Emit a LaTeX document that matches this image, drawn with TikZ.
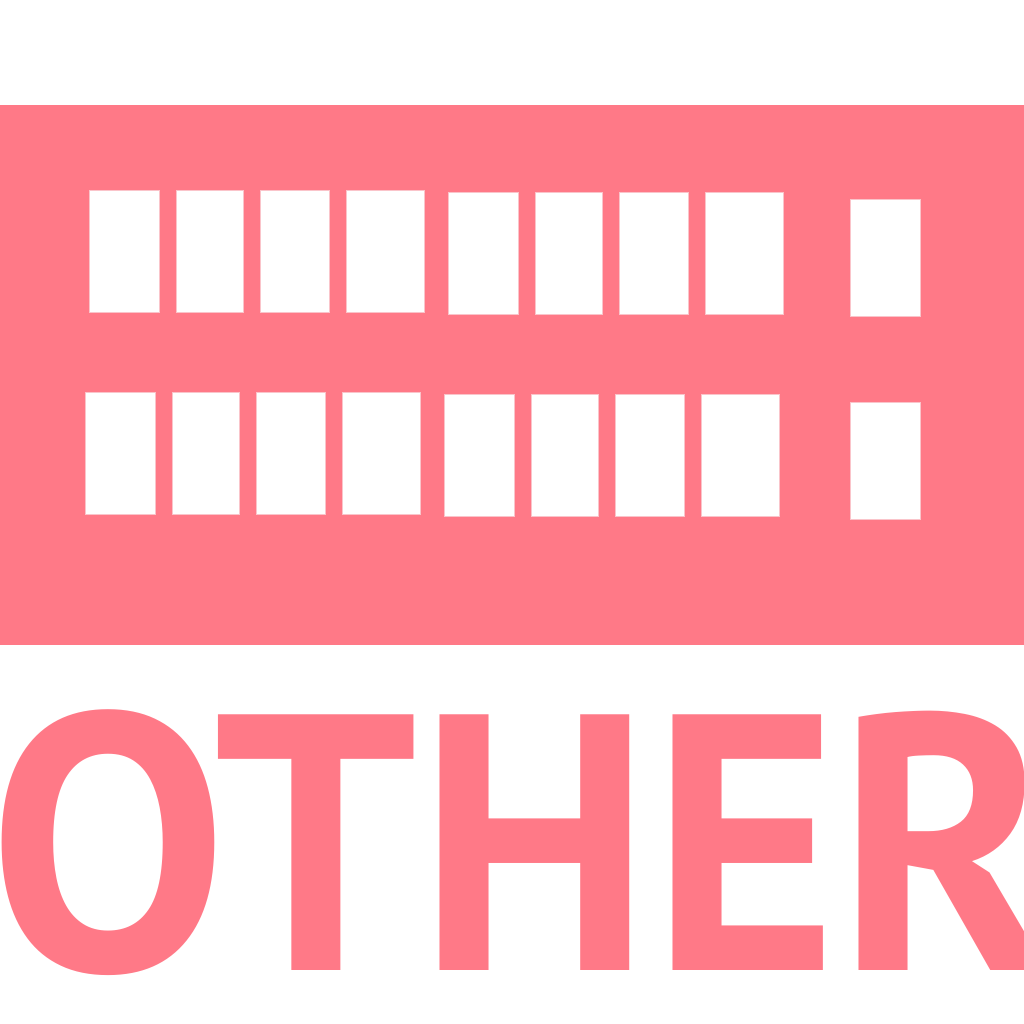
\documentclass[tikz,border=0pt]{standalone}
\usepackage{fontspec}
\newfontfamily\othersfont{PT Sans}
\definecolor{otherpink}{RGB}{255,121,135}
\definecolor{edgepink}{RGB}{250,196,202}

\begin{document}
\tikzset{every picture/.style={line width=0.75pt}}

\begin{tikzpicture}[x=0.75pt,y=0.75pt,yscale=-1,xscale=1]
\useasboundingbox (0,0) rectangle (1024,1024);
\clip (0,0) rectangle (1024,1024);

%Shape: Rectangle [id:dp_band]
\draw  [draw opacity=0][fill=otherpink ,fill opacity=1 ] (0,105) -- (1024,105) -- (1024,645) -- (0,645) -- cycle ;

%Shape: Rectangle [id:dp_top1]
\draw  [draw=edgepink ][fill=white ,line width=0.6 ] (89.3,190) -- (159.7,190) -- (159.7,312.3) -- (89.3,312.3) -- cycle ;
%Shape: Rectangle [id:dp_top2]
\draw  [draw=edgepink ][fill=white ,line width=0.6 ] (176.3,190) -- (243.7,190) -- (243.7,312.3) -- (176.3,312.3) -- cycle ;
%Shape: Rectangle [id:dp_top3]
\draw  [draw=edgepink ][fill=white ,line width=0.6 ] (260.3,190) -- (329.7,190) -- (329.7,312.3) -- (260.3,312.3) -- cycle ;
%Shape: Rectangle [id:dp_top4]
\draw  [draw=edgepink ][fill=white ,line width=0.6 ] (346.7,190) -- (424.7,190) -- (424.7,312.3) -- (346.7,312.3) -- cycle ;
%Shape: Rectangle [id:dp_top5]
\draw  [draw=edgepink ][fill=white ,line width=0.6 ] (448.7,192.3) -- (518.7,192.3) -- (518.7,314.3) -- (448.7,314.3) -- cycle ;
%Shape: Rectangle [id:dp_top6]
\draw  [draw=edgepink ][fill=white ,line width=0.6 ] (535.3,192.3) -- (602.7,192.3) -- (602.7,314.3) -- (535.3,314.3) -- cycle ;
%Shape: Rectangle [id:dp_top7]
\draw  [draw=edgepink ][fill=white ,line width=0.6 ] (619.3,192.3) -- (688.7,192.3) -- (688.7,314.3) -- (619.3,314.3) -- cycle ;
%Shape: Rectangle [id:dp_top8]
\draw  [draw=edgepink ][fill=white ,line width=0.6 ] (705.3,192.3) -- (783.7,192.3) -- (783.7,314.3) -- (705.3,314.3) -- cycle ;
%Shape: Rectangle [id:dp_top9]
\draw  [draw=edgepink ][fill=white ,line width=0.6 ] (850.3,199.3) -- (920.7,199.3) -- (920.7,316.3) -- (850.3,316.3) -- cycle ;

%Shape: Rectangle [id:dp_bot1]
\draw  [draw=edgepink ][fill=white ,line width=0.6 ] (85.7,392.3) -- (155.7,392.3) -- (155.7,514.3) -- (85.7,514.3) -- cycle ;
%Shape: Rectangle [id:dp_bot2]
\draw  [draw=edgepink ][fill=white ,line width=0.6 ] (172.3,392.3) -- (239.7,392.3) -- (239.7,514.3) -- (172.3,514.3) -- cycle ;
%Shape: Rectangle [id:dp_bot3]
\draw  [draw=edgepink ][fill=white ,line width=0.6 ] (256.3,392.3) -- (325.7,392.3) -- (325.7,514.3) -- (256.3,514.3) -- cycle ;
%Shape: Rectangle [id:dp_bot4]
\draw  [draw=edgepink ][fill=white ,line width=0.6 ] (342.3,392.3) -- (420.7,392.3) -- (420.7,514.3) -- (342.3,514.3) -- cycle ;
%Shape: Rectangle [id:dp_bot5]
\draw  [draw=edgepink ][fill=white ,line width=0.6 ] (444.7,394.3) -- (514.7,394.3) -- (514.7,516.3) -- (444.7,516.3) -- cycle ;
%Shape: Rectangle [id:dp_bot6]
\draw  [draw=edgepink ][fill=white ,line width=0.6 ] (531.3,394.3) -- (598.7,394.3) -- (598.7,516.3) -- (531.3,516.3) -- cycle ;
%Shape: Rectangle [id:dp_bot7]
\draw  [draw=edgepink ][fill=white ,line width=0.6 ] (615.3,394.3) -- (684.7,394.3) -- (684.7,516.3) -- (615.3,516.3) -- cycle ;
%Shape: Rectangle [id:dp_bot8]
\draw  [draw=edgepink ][fill=white ,line width=0.6 ] (701.3,394.3) -- (779.7,394.3) -- (779.7,516.3) -- (701.3,516.3) -- cycle ;
%Shape: Rectangle [id:dp_bot9]
\draw  [draw=edgepink ][fill=white ,line width=0.6 ] (850.3,402.3) -- (920.7,402.3) -- (920.7,519.7) -- (850.3,519.7) -- cycle ;

% Text Node
\draw (-12,970.7) node (other) [anchor=base west][inner sep=0pt][text=otherpink]   [align=left] {\scalebox{0.98}[1]{\othersfont\bfseries\fontsize{274}{274}\selectfont OTHER}};

\end{tikzpicture}
\end{document}
